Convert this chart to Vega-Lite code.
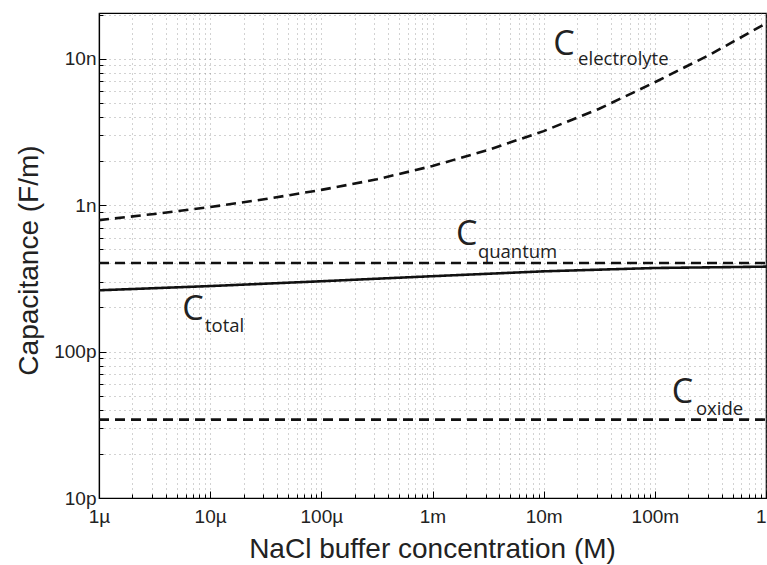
{
  "$schema": "https://vega.github.io/schema/vega-lite/v6.json",
  "autosize": {"type": "none"},
  "padding": {"left": 99, "top": 13, "right": 1, "bottom": 67},
  "width": 667,
  "height": 485,
  "background": "white",
  "config": {
    "view": {"stroke": "#000", "strokeWidth": 1.2},
    "axis": {
      "labelFont": "Liberation Sans",
      "labelFontSize": 19,
      "labelColor": "#222",
      "titleFont": "Liberation Sans",
      "titleFontSize": 28,
      "titleFontWeight": "normal",
      "titleColor": "#222",
      "domainColor": "#000",
      "domainWidth": 1.2,
      "tickColor": "#000",
      "gridColor": "#777",
      "gridDash": [1, 4],
      "gridWidth": 1,
      "gridOpacity": 0.65
    }
  },
  "datasets": {
    "curves": [
      {"series": "electrolyte", "x": 1e-6, "y": 7.9e-10},
      {"series": "electrolyte", "x": 3.162e-6, "y": 8.7e-10},
      {"series": "electrolyte", "x": 1e-5, "y": 9.7e-10},
      {"series": "electrolyte", "x": 3.162e-5, "y": 1.1e-9},
      {"series": "electrolyte", "x": 1e-4, "y": 1.27e-9},
      {"series": "electrolyte", "x": 3.162e-4, "y": 1.5e-9},
      {"series": "electrolyte", "x": 1e-3, "y": 1.85e-9},
      {"series": "electrolyte", "x": 3.162e-3, "y": 2.38e-9},
      {"series": "electrolyte", "x": 1e-2, "y": 3.2e-9},
      {"series": "electrolyte", "x": 3.162e-2, "y": 4.55e-9},
      {"series": "electrolyte", "x": 1e-1, "y": 6.9e-9},
      {"series": "electrolyte", "x": 3.162e-1, "y": 1.07e-8},
      {"series": "electrolyte", "x": 1, "y": 1.74e-8},
      {"series": "quantum", "x": 1e-6, "y": 4.02e-10},
      {"series": "quantum", "x": 1, "y": 4.02e-10},
      {"series": "oxide", "x": 1e-6, "y": 3.43e-11},
      {"series": "oxide", "x": 1, "y": 3.43e-11},
      {"series": "total", "x": 1e-6, "y": 2.62e-10},
      {"series": "total", "x": 1e-5, "y": 2.8e-10},
      {"series": "total", "x": 1e-4, "y": 3.02e-10},
      {"series": "total", "x": 1e-3, "y": 3.27e-10},
      {"series": "total", "x": 1e-2, "y": 3.53e-10},
      {"series": "total", "x": 1e-1, "y": 3.72e-10},
      {"series": "total", "x": 1, "y": 3.8e-10}
    ],
    "bigC": [
      {"x": 0.0122, "y": 1.057e-8, "t": "C"},
      {"x": 0.00163, "y": 5.33e-10, "t": "C"},
      {"x": 5.6e-6, "y": 1.64e-10, "t": "C"},
      {"x": 0.142, "y": 4.45e-11, "t": "C"}
    ],
    "subs": [
      {"x": 0.0204, "y": 9.03e-9, "t": "electrolyte"},
      {"x": 0.00256, "y": 4.35e-10, "t": "quantum"},
      {"x": 8.98e-6, "y": 1.36e-10, "t": "total"},
      {"x": 0.2344, "y": 3.69e-11, "t": "oxide"}
    ]
  },
  "layer": [
    {
      "data": {"name": "curves"},
      "mark": {"type": "line", "strokeWidth": 2.6, "color": "#111", "clip": true},
      "encoding": {
        "x": {
          "field": "x", "type": "quantitative",
          "scale": {"type": "log", "domain": [1e-6, 1], "nice": false},
          "axis": {
            "title": "NaCl buffer concentration (M)",
            "titleX": 333, "titleY": 51, "titleBaseline": "middle", "titleAnchor": null,
            "values": [1e-6,2e-6,3e-6,4e-6,5e-6,6e-6,7e-6,8e-6,9e-6,1e-5,2e-5,3e-5,4e-5,5e-5,6e-5,7e-5,8e-5,9e-5,1e-4,2e-4,3e-4,4e-4,5e-4,6e-4,7e-4,8e-4,9e-4,1e-3,2e-3,3e-3,4e-3,5e-3,6e-3,7e-3,8e-3,9e-3,1e-2,2e-2,3e-2,4e-2,5e-2,6e-2,7e-2,8e-2,9e-2,1e-1,2e-1,3e-1,4e-1,5e-1,6e-1,7e-1,8e-1,9e-1,1],
            "grid": true,
            "labelExpr": "abs(log(datum.value)/LN10 - round(log(datum.value)/LN10)) < 1e-6 ? format(datum.value, '~s') : ''",
            "labelAlign": {"condition": {"test": "datum.value > 0.99", "value": "right"}, "value": "center"},
            "tickSize": {"condition": {"test": "abs(log(datum.value)/LN10 - round(log(datum.value)/LN10)) < 1e-6", "value": -7}, "value": -4},
            "labelPadding": 16,
            "labelFlush": false,
            "labelOverlap": false
          }
        },
        "y": {
          "field": "y", "type": "quantitative",
          "scale": {"type": "log", "domain": [1e-11, 2.05e-8], "nice": false},
          "axis": {
            "title": "Capacitance (F/m)",
            "titleX": -70, "titleY": 247, "titleBaseline": "middle", "titleAnchor": null,
            "values": [1e-11,2e-11,3e-11,4e-11,5e-11,6e-11,7e-11,8e-11,9e-11,1e-10,2e-10,3e-10,4e-10,5e-10,6e-10,7e-10,8e-10,9e-10,1e-9,2e-9,3e-9,4e-9,5e-9,6e-9,7e-9,8e-9,9e-9,1e-8,2e-8],
            "grid": true,
            "labelExpr": "abs(log(datum.value)/LN10 - round(log(datum.value)/LN10)) < 1e-6 ? format(datum.value, '~s') : ''",
            "tickSize": {"condition": {"test": "abs(log(datum.value)/LN10 - round(log(datum.value)/LN10)) < 1e-6", "value": -7}, "value": -4},
            "labelPadding": 10,
            "labelFlush": false,
            "labelOverlap": false
          }
        },
        "detail": {"field": "series"},
        "strokeDash": {
          "field": "series", "type": "nominal", "legend": null,
          "scale": {"domain": ["electrolyte", "quantum", "oxide", "total"], "range": [[10, 6], [10, 6], [10, 6], [1, 0]]}
        }
      }
    },
    {
      "data": {"name": "bigC"},
      "mark": {"type": "text", "font": "Open Sans", "fontSize": 34, "align": "left", "baseline": "alphabetic", "color": "#222"},
      "encoding": {
        "x": {"field": "x", "type": "quantitative"},
        "y": {"field": "y", "type": "quantitative"},
        "text": {"field": "t"}
      }
    },
    {
      "data": {"name": "subs"},
      "mark": {"type": "text", "font": "Open Sans", "fontSize": 18.5, "align": "left", "baseline": "alphabetic", "color": "#222"},
      "encoding": {
        "x": {"field": "x", "type": "quantitative"},
        "y": {"field": "y", "type": "quantitative"},
        "text": {"field": "t"}
      }
    }
  ]
}
